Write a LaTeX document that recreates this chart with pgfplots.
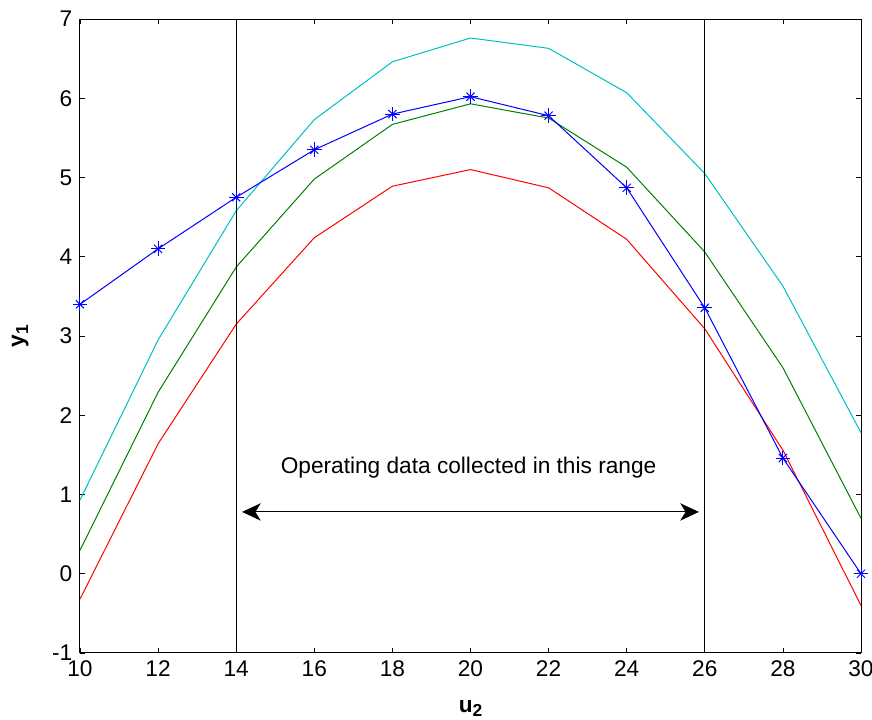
\documentclass[border=0pt]{standalone}
\usepackage{fontspec}
\setmainfont{Liberation Sans}
\usepackage{pgfplots}
\pgfplotsset{compat=1.18}
\usetikzlibrary{arrows.meta}
\definecolor{mcyan}{rgb}{0,0.75,0.75}
\definecolor{mgreen}{rgb}{0,0.5,0}
\begin{document}
\fontsize{17}{20}\selectfont
\begin{tikzpicture}
\begin{axis}[
  scale only axis,
  width=585.75pt, height=475.5pt,
  xmin=10, xmax=30, ymin=-1, ymax=7,
  xtick={10,12,...,30}, ytick={-1,0,...,7},
  tick align=inside,
  major tick length=4pt,
  tick style={black, line width=0.6pt},
  axis line style={line width=0.75pt},
  /pgf/number format/assume math mode=true,
  ticklabel style={font=\fontsize{17}{20}\selectfont},
  xlabel={\textbf{u\raisebox{-0.35ex}{\fontsize{13}{15}\selectfont 2}}},
  ylabel={\textbf{y\raisebox{-0.35ex}{\fontsize{13}{15}\selectfont 1}}},
  label style={font=\fontsize{17}{20}\selectfont\bfseries},
  xlabel style={yshift=-6pt},
  ylabel style={yshift=6pt},
  clip=false,
]
\addplot[mcyan, line width=0.75pt] coordinates {
(10,0.93)(12,2.95)(14,4.58)(16,5.73)(18,6.46)(20,6.76)(22,6.63)(24,6.07)(26,5.05)(28,3.63)(30,1.78)};
\addplot[mgreen, line width=0.75pt] coordinates {
(10,0.295)(12,2.29)(14,3.87)(16,4.98)(18,5.67)(20,5.93)(22,5.75)(24,5.13)(26,4.06)(28,2.60)(30,0.70)};
\addplot[red, line width=0.75pt] coordinates {
(10,-0.32)(12,1.64)(14,3.15)(16,4.24)(18,4.89)(20,5.10)(22,4.87)(24,4.22)(26,3.09)(28,1.56)(30,-0.40)};
\addplot[blue, line width=0.75pt, mark=+, mark size=5.5pt, mark options={solid, line width=0.75pt}] coordinates {
(10,3.40)(12,4.10)(14,4.75)(16,5.35)(18,5.80)(20,6.02)(22,5.78)(24,4.87)(26,3.355)(28,1.46)(30,0.0)};
\addplot[blue, only marks, mark=x, mark size=4.3pt, mark options={line width=0.75pt}] coordinates {
(10,3.40)(12,4.10)(14,4.75)(16,5.35)(18,5.80)(20,6.02)(22,5.78)(24,4.87)(26,3.355)(28,1.46)(30,0.0)};
\addplot[black, line width=0.6pt] coordinates {(14,-1)(14,7)};
\addplot[black, line width=0.6pt] coordinates {(26,-1)(26,7)};
\draw[black, line width=0.75pt, {Stealth[length=14pt,width=13pt,inset=4pt]}-{Stealth[length=14pt,width=13pt,inset=4pt]}] (axis cs:14.15,0.78) -- (axis cs:25.85,0.78);
\node[font=\fontsize{17}{20}\selectfont] at (axis cs:19.95,1.34) {Operating data collected in this range};
\end{axis}
\pgfresetboundingbox
\path (-60pt,-50.25pt) rectangle (594pt,489.75pt);
\end{tikzpicture}
\end{document}
